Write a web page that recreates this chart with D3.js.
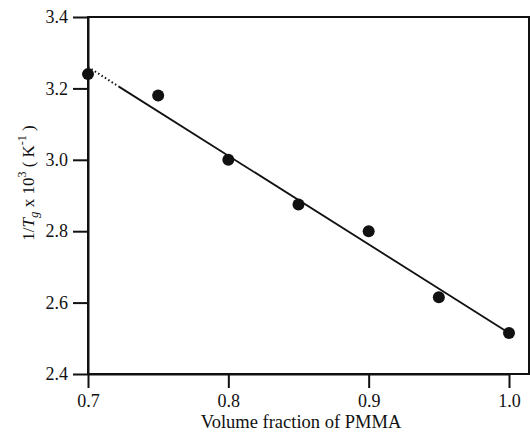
<!DOCTYPE html>
<html>
<head>
<meta charset="utf-8">
<script src="https://cdn.jsdelivr.net/npm/d3@7"></script>
<style>
  html, body { margin: 0; padding: 0; background: #fff; }
  svg { display: block; }
  svg text { font-family: "Liberation Serif", "Times New Roman", serif !important; fill: #111; }
</style>
</head>
<body>
<script>
// Measured glass transition data: volume fraction of PMMA vs 1/Tg (x 10^3, K^-1)
const volumeFraction = [0.70, 0.75, 0.80, 0.85, 0.90, 0.95, 1.00];
const invTg = [3.24, 3.18, 3.00, 2.875, 2.80, 2.615, 2.515];

// Linear fit: dotted near the low end, solid over the rest
const fitX = [0.70, 0.722, 1.00];
const fitY = [3.26, 3.205, 2.515];

const xTicks = [0.7, 0.8, 0.9, 1.0];
const yTicks = [2.4, 2.6, 2.8, 3.0, 3.2, 3.4];

const W = 530, H = 432;
const plot = { left: 88, right: 529, top: 17, bottom: 374 };
const serif = "Liberation Serif, Times New Roman, serif";

const svg = d3.select("body").append("svg")
  .attr("width", W).attr("height", H)
  .style("font-family", serif);

svg.append("rect").attr("width", W).attr("height", H).attr("fill", "#fff");

const x = d3.scaleLinear().domain([0.7, 1.0]).range([plot.left, 509]);
const y = d3.scaleLinear().domain([2.4, 3.4]).range([plot.bottom, plot.top]);

// Frame
svg.append("rect")
  .attr("x", plot.left).attr("y", plot.top)
  .attr("width", plot.right - plot.left).attr("height", plot.bottom - plot.top)
  .attr("fill", "none").attr("stroke", "#111").attr("stroke-width", 2);

// Axes
const fmt = d3.format(".1f");
const yAxis = svg.append("g")
  .attr("transform", `translate(${plot.left},0)`)
  .call(d3.axisLeft(y).tickValues(yTicks).tickFormat(fmt).tickSize(15).tickSizeOuter(0).tickPadding(5));
const xAxis = svg.append("g")
  .attr("transform", `translate(0,${plot.bottom})`)
  .call(d3.axisBottom(x).tickValues(xTicks).tickFormat(fmt).tickSize(14).tickSizeOuter(0).tickPadding(6));

[yAxis, xAxis].forEach(g => {
  g.attr("font-family", serif).attr("font-size", 18);
  g.select(".domain").attr("stroke", "#111").attr("stroke-width", 2);
  g.selectAll(".tick line").attr("stroke", "#111").attr("stroke-width", 2);
  g.selectAll(".tick text")
    .style("font-family", serif)
    .attr("font-size", 18).attr("fill", "#111");
});

// Fit line
svg.append("line")
  .attr("x1", x(fitX[0])).attr("y1", y(fitY[0]))
  .attr("x2", x(fitX[1])).attr("y2", y(fitY[1]))
  .attr("stroke", "#111").attr("stroke-width", 2)
  .attr("stroke-dasharray", "1.5,2.5");
svg.append("line")
  .attr("x1", x(fitX[1])).attr("y1", y(fitY[1]))
  .attr("x2", x(fitX[2])).attr("y2", y(fitY[2]))
  .attr("stroke", "#111").attr("stroke-width", 1.8);

// Data points
svg.append("g").selectAll("circle")
  .data(volumeFraction.map((v, i) => [v, invTg[i]]))
  .join("circle")
  .attr("cx", d => x(d[0])).attr("cy", d => y(d[1]))
  .attr("r", 6).attr("fill", "#111");

// Axis titles
svg.append("text")
  .attr("x", 301).attr("y", 428)
  .attr("text-anchor", "middle").attr("font-size", 18.5)
  .text("Volume fraction of PMMA");

const yt = svg.append("text")
  .attr("transform", "translate(34,183) rotate(-90)")
  .attr("text-anchor", "middle").attr("font-size", 17);
yt.append("tspan").text("1/");
yt.append("tspan").attr("font-style", "italic").text("T");
yt.append("tspan").attr("font-style", "italic").attr("font-size", 13).attr("dy", 4).text("g");
yt.append("tspan").attr("dy", -4).text(" x 10");
yt.append("tspan").attr("font-size", 12).attr("dy", -8).text("3");
yt.append("tspan").attr("dy", 8).text(" ( K");
yt.append("tspan").attr("font-size", 12).attr("dy", -8).text("-1");
yt.append("tspan").attr("dy", 8).text(" )");
</script>
</body>
</html>
